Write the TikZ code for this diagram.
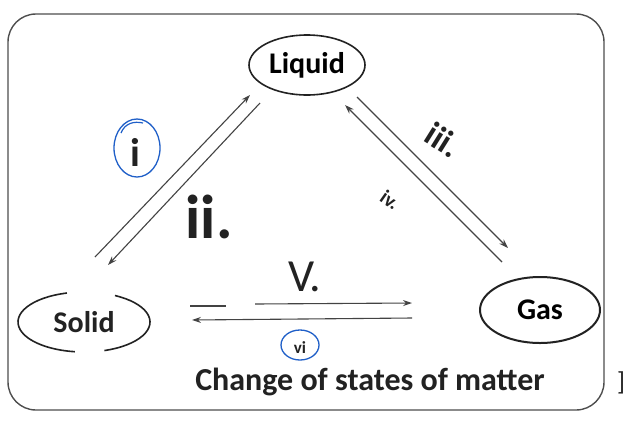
\documentclass[tikz,border=0pt]{standalone}
\usepackage{fontspec}
\setmainfont{Carlito}
\usetikzlibrary{arrows.meta,shapes.geometric}
\definecolor{ink}{HTML}{222222}
\definecolor{pen}{HTML}{1F5FC8}
\tikzset{
  statebox/.style={ellipse,draw=ink,line width=1.6pt,font=\fontsize{30}{32}\selectfont\bfseries,inner sep=0pt},
  conn/.style={draw=ink!85,line width=1.1pt},
  tip/.style={-{Stealth[length=9pt,width=6pt]}},
  lab/.style={text=ink,inner sep=0pt},
}
\begin{document}
\begin{tikzpicture}[x=1pt,y=-1pt]
\useasboundingbox (0,0) rectangle (628,421);
\fill[white] (0,0) rectangle (628,421);
% frame
\draw[ink!80,line width=1.4pt,rounded corners=28pt] (8,14) rectangle (604,410);
\node[lab,font=\fontsize{26}{28}\selectfont] (br) at (621,383) {]};
% states
\node[statebox,minimum width=116pt,minimum height=60pt] (liquid) at (307,65) {Liquid};
\node[ellipse,minimum width=132pt,minimum height=60pt,inner sep=0pt,font=\fontsize{30}{32}\selectfont\bfseries,text=ink] (solid) at (84,322) {Solid};
\draw[ink,line width=1.6pt] ([shift={(105:66pt and 30pt)}]solid.center) arc[start angle=105,end angle=262,x radius=66pt,y radius=30pt];
\draw[ink,line width=1.6pt] ([shift={(-72:66pt and 30pt)}]solid.center) arc[start angle=-72,end angle=62,x radius=66pt,y radius=30pt];
\node[statebox,line width=2pt,minimum width=120pt,minimum height=66pt] (gas) at (540,310) {Gas};
% arrow end points
\coordinate (a1) at (95,257);  \coordinate (b1) at (250,95);
\coordinate (a2) at (260,103); \coordinate (b2) at (108,265);
\coordinate (a3) at (357,97);  \coordinate (b3) at (508,248);
\coordinate (a4) at (502,262); \coordinate (b4) at (345,105);
\coordinate (a5) at (190,306); \coordinate (m5) at (226,306);
\coordinate (c5) at (255,304); \coordinate (b5) at (412,303);
\coordinate (a6) at (412,318); \coordinate (b6) at (192,320);
% connectors
\draw[conn,tip] (a1) -- (b1);
\draw[conn,tip] (a2) -- (b2);
\draw[conn,tip] (a3) -- (b3);
\draw[conn,tip] (a4) -- (b4);
\draw[conn,line width=1.8pt] (a5) -- (m5);
\draw[conn,tip] (c5) -- (b5);
\draw[conn,tip] (a6) -- (b6);
% labels
\node[draw=pen,line width=1.3pt,ellipse,minimum width=46pt,minimum height=58pt,inner sep=0pt] (c1) at (137,148) {};
\draw[pen,line width=1.2pt] (121,133) .. controls (125,123) and (134,121) .. (143,123);
\node[lab,font=\fontsize{40}{42}\selectfont\bfseries] (l1) at (135,152) {i};
\node[lab,font=\fontsize{62}{64}\selectfont\bfseries] (l2) at (209,217) {ii.};
\node[lab,font=\fontsize{34}{36}\selectfont\bfseries,rotate=-32] (l3) at (443,140) {iii.};
\node[lab,font=\fontsize{20}{22}\selectfont\bfseries,rotate=-35] (l4) at (390,200) {iv.};
\node[lab,font=\fontsize{46}{48}\selectfont] (l5) at (305,277) {V.};
\node[draw=pen,line width=1.3pt,ellipse,minimum width=38pt,minimum height=30pt,inner sep=0pt] (c6) at (300,345) {};
\node[lab,font=\fontsize{17}{18}\selectfont\bfseries] (l6) at (300,348) {vi};
\node[lab,font=\fontsize{32}{34}\selectfont\bfseries] (cap) at (370,382) {Change of states of matter};
\end{tikzpicture}
\end{document}
